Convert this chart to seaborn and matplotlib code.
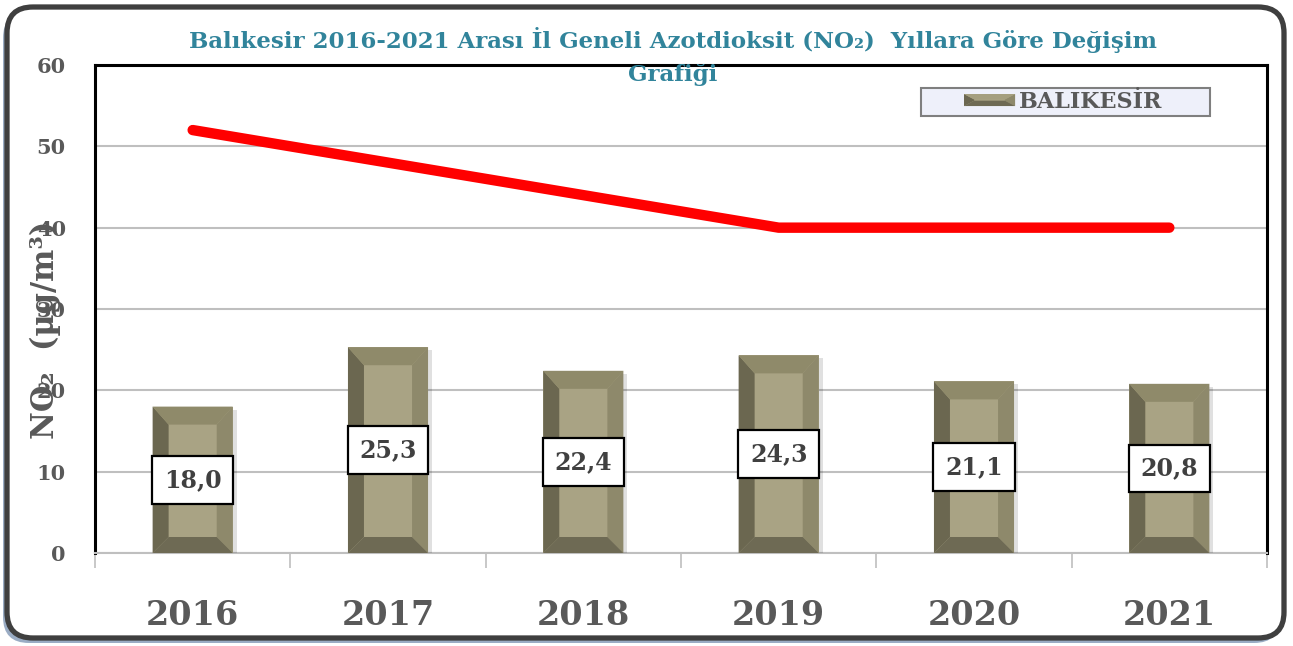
import numpy as np
import pandas as pd
import matplotlib
matplotlib.use("Agg")
import matplotlib.pyplot as plt
import seaborn as sns
from matplotlib.patches import Polygon, Rectangle, FancyBboxPatch
from matplotlib.legend_handler import HandlerBase

# ---------------- data ----------------
years = ["2016", "2017", "2018", "2019", "2020", "2021"]
no2_values = [18.0, 25.3, 22.4, 24.3, 21.1, 20.8]
limit_values = [52, 48, 44, 40, 40, 40]
series_name = "BALIKESİR"
title_text = "Balıkesir 2016-2021 Arası İl Geneli Azotdioksit (NO₂)  Yıllara Göre Değişim\nGrafiği"
ylabel_text = "NO₂  (µg/m³)"
y_ticks = [0, 10, 20, 30, 40, 50, 60]

# ---------------- style ----------------
W, H, DPI = 1293, 646, 100
sns.set_theme(style="white")
plt.rcParams['font.family'] = ['DejaVu Serif']

C_CENTER = '#A9A384'
C_LEFT = '#6B6750'
C_RIGHT = '#8E896B'
C_TOP = '#8F8A6A'
C_BOT = '#6E6A54'
GRAY_TXT = '#595959'
TITLE_C = '#31849B'

fig = plt.figure(figsize=(W / DPI, H / DPI), dpi=DPI)
fig.patch.set_facecolor('white')

# outer rounded frame with bluish shadow (pixel coordinates)
shadow = FancyBboxPatch((3, 3), 1277, 631, boxstyle="round,pad=0,rounding_size=26",
                        transform=None, fc='#9AACC4', ec='none', zorder=-12)
frame = FancyBboxPatch((7, 8), 1277, 631, boxstyle="round,pad=0,rounding_size=26",
                       transform=None, fc='white', ec='#3F3F3F', lw=3.8, zorder=-11)
fig.patches.extend([shadow, frame])

ax_l, ax_r, ax_t, ax_b = 95, 1267, 65, 553
ax = fig.add_axes([ax_l / W, (H - ax_b) / H, (ax_r - ax_l) / W, (ax_b - ax_t) / H])
ax.set_facecolor('white')

df = pd.DataFrame({"Yıl": years, "NO2": no2_values})
sns.barplot(data=df, x="Yıl", y="NO2", color=C_CENTER, saturation=1, width=0.41,
            edgecolor='none', linewidth=0, ax=ax, zorder=3)

ax.set_xlim(-0.5, len(years) - 0.5)
ax.set_ylim(y_ticks[0], y_ticks[-1])

# bevel effect derived from each bar patch
sx = (len(years)) / (ax_r - ax_l)
sy = (y_ticks[-1] - y_ticks[0]) / (ax_b - ax_t)
dx, dt, db = 16 * sx, 18 * sy, 16 * sy
for p in list(ax.patches):
    x0, y0, w, h = p.get_x(), p.get_y(), p.get_width(), p.get_height()
    x1, y1 = x0 + w, y0 + h
    polys = [
        ([(x0, y0), (x0 + dx, y0 + db), (x0 + dx, y1 - dt), (x0, y1)], C_LEFT),
        ([(x1, y0), (x1 - dx, y0 + db), (x1 - dx, y1 - dt), (x1, y1)], C_RIGHT),
        ([(x0, y1), (x1, y1), (x1 - dx, y1 - dt), (x0 + dx, y1 - dt)], C_TOP),
        ([(x0, y0), (x1, y0), (x1 - dx, y0 + db), (x0 + dx, y0 + db)], C_BOT),
    ]
    for pts, c in polys:
        ax.add_patch(Polygon(pts, closed=True, fc=c, ec='none', zorder=3.5))
    # soft shadow on the right
    ax.add_patch(Rectangle((x1, y0), 4 * sx, h - 3 * sy, fc='#000000', alpha=0.12,
                           ec='none', zorder=2.9))

# limit line
sns.lineplot(x=np.arange(len(years)), y=limit_values, color='#FF0000', linewidth=7.5,
             ax=ax, zorder=5, legend=False)
ax.lines[-1].set_solid_capstyle('round')

# value labels
for i, v in enumerate(no2_values):
    ax.text(i, v / 2, f"{v:.1f}".replace('.', ','), ha='center', va='center',
            fontsize=17, fontweight='bold', color='#404040', zorder=6,
            bbox=dict(boxstyle='square,pad=0.5', fc='white', ec='black', lw=1.6))

# grid & spines
ax.set_yticks(y_ticks)
ax.yaxis.grid(True, color='#BFBFBF', lw=1.5)
ax.xaxis.grid(False)
ax.set_axisbelow(True)
for s in ['top', 'left', 'right']:
    ax.spines[s].set_color('black')
    ax.spines[s].set_linewidth(2.2)
    ax.spines[s].set_visible(True)
ax.spines['bottom'].set_color('#BFBFBF')
ax.spines['bottom'].set_linewidth(1.5)

ax.tick_params(axis='y', length=0, pad=21, labelsize=15, labelcolor=GRAY_TXT)
for t in ax.get_yticklabels():
    t.set_fontweight('bold')

ax.set_xticks(range(len(years)))
ax.set_xticklabels(years, fontsize=24, fontweight='bold', color=GRAY_TXT)
ax.set_xticks(np.arange(-0.5, len(years), 1), minor=True)
ax.tick_params(axis='x', which='major', length=0, pad=33)
ax.tick_params(axis='x', which='minor', length=11, width=1.2, color='#BFBFBF',
               direction='out', bottom=True)
ax.set_xlabel('')
ax.set_ylabel('')

# legend box + legend
ax.add_patch(Rectangle(((921 - ax_l) / (ax_r - ax_l), 1 - (116 - ax_t) / (ax_b - ax_t)),
                       (1210 - 921) / (ax_r - ax_l), (116 - 88) / (ax_b - ax_t),
                       transform=ax.transAxes, fc='#EEF0FA', ec='#7F7F7F', lw=1.5, zorder=7))


class BevelHandler(HandlerBase):
    def create_artists(self, legend, orig_handle, xdescent, ydescent, width, height,
                       fontsize, trans):
        x0, y0 = -xdescent, -ydescent
        x1, y1 = x0 + width, y0 + height
        ddx, ddy = width * 0.2, height * 0.45
        arts = [Rectangle((x0, y0), width, height, fc=C_CENTER, ec='none', transform=trans)]
        for pts, c in [
            ([(x0, y0), (x0 + ddx, y0 + ddy), (x0 + ddx, y1 - ddy), (x0, y1)], C_LEFT),
            ([(x1, y0), (x1 - ddx, y0 + ddy), (x1 - ddx, y1 - ddy), (x1, y1)], C_RIGHT),
            ([(x0, y1), (x1, y1), (x1 - ddx, y1 - ddy), (x0 + ddx, y1 - ddy)], '#A59F7F'),
            ([(x0, y0), (x1, y0), (x1 - ddx, y0 + ddy), (x0 + ddx, y0 + ddy)], C_BOT),
        ]:
            arts.append(Polygon(pts, closed=True, fc=c, ec='none', transform=trans))
        return arts


proxy = Rectangle((0, 0), 1, 1, fc=C_CENTER)
leg = ax.legend(handles=[proxy], labels=[series_name], loc='center left',
                bbox_to_anchor=((964 - ax_l) / (ax_r - ax_l), 1 - (102 - ax_t) / (ax_b - ax_t)),
                frameon=False, borderpad=0, borderaxespad=0, handlelength=2.3,
                handleheight=0.45, handletextpad=0.15,
                prop=dict(weight='bold', size=16), labelcolor=GRAY_TXT,
                handler_map={proxy: BevelHandler()})
leg.set_zorder(8)

# title and y label
fig.text(673 / W, 1 - 56.5 / H, title_text, ha='center', va='center', fontsize=16.5,
         fontweight='bold', color=TITLE_C, linespacing=1.6)
fig.text(45 / W, 1 - 330 / H, ylabel_text, ha='center', va='center', rotation=90,
         fontsize=22, fontweight='bold', color=GRAY_TXT)

fig.savefig("out.png", dpi=DPI, facecolor='white')
